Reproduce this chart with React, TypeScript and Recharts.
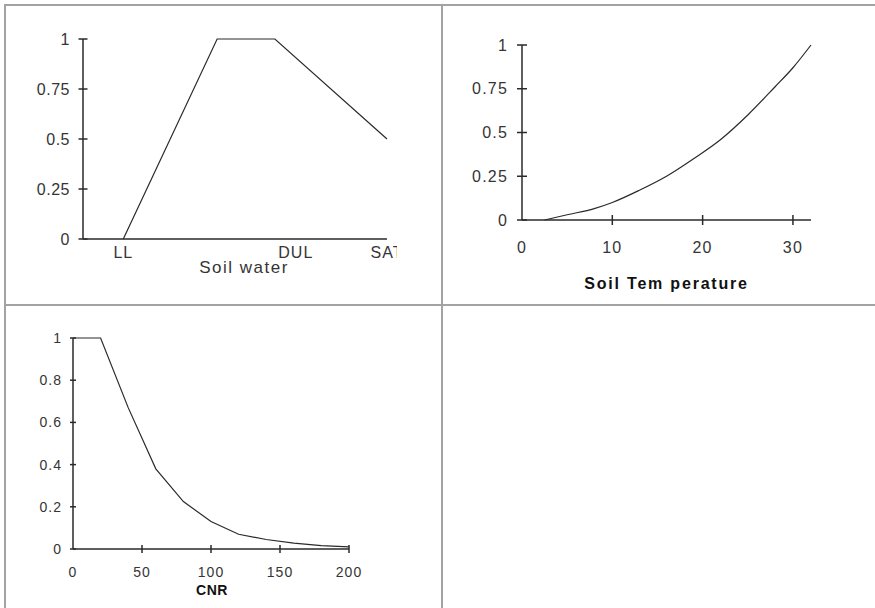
import React from "react";
import { LineChart, Line, XAxis, YAxis, Label } from "recharts";

// soil water panel (x in arbitrary units between LL and SAT)
const waterPos = [1.06, 3.53, 5.05, 8];
const waterFactor = [0, 1, 1, 0.5];
const waterTickPos = [1.06, 5.6, 8];
const waterTickNames = ["LL", "DUL", "SAT"];
const unitTicks = [0, 0.25, 0.5, 0.75, 1];

// soil temperature panel
const tempC = [2.5, 5, 8, 10, 13, 16, 19, 22, 25, 28, 30, 32];
const tempFactor = [0, 0.03, 0.065, 0.1, 0.17, 0.25, 0.35, 0.46, 0.6, 0.76, 0.87, 1];
const tempTicks = [0, 10, 20, 30];

// C:N ratio panel
const cnr = [0, 20, 40, 60, 80, 100, 120, 140, 160, 180, 200];
const cnrFactor = [1, 1, 0.67, 0.38, 0.225, 0.13, 0.07, 0.045, 0.028, 0.016, 0.01];
const cnrTicks = [0, 50, 100, 150, 200];
const fifthTicks = [0, 0.2, 0.4, 0.6, 0.8, 1];

const waterData = waterPos.map((x, i) => ({ x, y: waterFactor[i] }));
const tempData = tempC.map((x, i) => ({ x, y: tempFactor[i] }));
const cnrData = cnr.map((x, i) => ({ x, y: cnrFactor[i] }));

const INK = "#2a2a2a";
const TXT = "#353535";
const FONT = "'Liberation Sans', Arial, sans-serif";

function YTick(props: any) {
  const { x, y, payload, len, gap, size, ls } = props;
  return (
    <g>
      <line x1={x - len} x2={x + len} y1={y} y2={y} stroke={INK} strokeWidth={1.5} />
      <text x={x - gap} y={y} dy="0.35em" textAnchor="end" fill={TXT}
        fontSize={size} fontFamily={FONT} letterSpacing={ls}>
        {String(payload.value)}
      </text>
    </g>
  );
}

function XTick(props: any) {
  const { x, y, payload, len, gap, size, ls, names, clipX } = props;
  let label = String(payload.value);
  if (names) {
    const i = waterTickPos.indexOf(payload.value);
    label = i >= 0 ? names[i] : "";
  }
  const cid = "clip-" + String(payload.value).replace(".", "_");
  return (
    <g>
      {len > 0 && (
        <line x1={x} x2={x} y1={y - len} y2={y + len} stroke={INK} strokeWidth={1.5} />
      )}
      {clipX && (
        <defs>
          <clipPath id={cid}>
            <rect x={0} y={0} width={clipX} height={400} />
          </clipPath>
        </defs>
      )}
      <text x={x} y={y + gap} dy="0.35em" textAnchor="middle" fill={TXT}
        fontSize={size} fontFamily={FONT} letterSpacing={ls}
        clipPath={clipX ? `url(#${cid})` : undefined}>
        {label}
      </text>
    </g>
  );
}

const title = (text: string, dx: number, dy: number, size: number, bold: boolean, ls: number) =>
  (p: any) => {
    const vb = p.viewBox;
    return (
      <text x={vb.x + vb.width / 2 + dx} y={vb.y + dy} dy="0.35em" textAnchor="middle"
        fill={bold ? "#111" : TXT} fontSize={size} fontWeight={bold ? 700 : 400}
        fontFamily={FONT} letterSpacing={ls}>
        {text}
      </text>
    );
  };

const line = (left: number, top: number, w: number, h: number) => (
  <div style={{ position: "absolute", left, top, width: w, height: h, background: "#a3a3a3" }} />
);

export default function App() {
  return (
    <div style={{ position: "absolute", left: 0, top: 0, width: 875, height: 608, background: "#fff", overflow: "hidden" }}>
      {line(4, 4, 871, 2)}
      {line(4, 4, 2, 604)}
      {line(441, 4, 2, 604)}
      {line(4, 304, 871, 2)}

      <div style={{ position: "absolute", left: 5, top: 5 }}>
        <LineChart width={437} height={300} data={waterData}
          margin={{ top: 34, right: 55, bottom: 36, left: 38 }}>
          <XAxis dataKey="x" type="number" domain={[0, 8]} ticks={waterTickPos}
            height={30} tickSize={0} tickMargin={0} stroke={INK} strokeWidth={1.5}
            interval={0}
            tick={(p: any) => <XTick {...p} len={0} gap={13} size={16} ls={1} names={waterTickNames} clipX={392} />}>
            <Label content={title("Soil water", 9, 28, 17, false, 1.5)} />
          </XAxis>
          <YAxis type="number" domain={[0, 1]} ticks={unitTicks} width={40}
            tickSize={0} tickMargin={0} stroke={INK} strokeWidth={1.5} interval={0}
            tick={(p: any) => <YTick {...p} len={4.5} gap={13} size={16} ls={0.5} />} />
          <Line dataKey="y" type="linear" stroke={INK} strokeWidth={1.2} dot={false}
            isAnimationActive={false} />
        </LineChart>
      </div>

      <div style={{ position: "absolute", left: 443, top: 5 }}>
        <LineChart width={432} height={300} data={tempData}
          margin={{ top: 40, right: 64, bottom: 55, left: 39 }}>
          <XAxis dataKey="x" type="number" domain={[0, 32]} ticks={tempTicks}
            height={30} tickSize={0} tickMargin={0} stroke={INK} strokeWidth={1.5}
            interval={0}
            tick={(p: any) => <XTick {...p} len={p.payload.value === 0 ? 0 : 5} gap={27} size={16} ls={1.2} />}>
            <Label content={title("Soil Tem perature", 0, 63, 16, true, 1.8)} />
          </XAxis>
          <YAxis type="number" domain={[0, 1]} ticks={unitTicks} width={40}
            tickSize={0} tickMargin={0} stroke={INK} strokeWidth={1.5} interval={0}
            tick={(p: any) => <YTick {...p} len={5} gap={14} size={16} ls={1.2} />} />
          <Line dataKey="y" type="monotone" stroke={INK} strokeWidth={1.2} dot={false}
            isAnimationActive={false} />
        </LineChart>
      </div>

      <div style={{ position: "absolute", left: 5, top: 306 }}>
        <LineChart width={437} height={302} data={cnrData}
          margin={{ top: 32, right: 93, bottom: 29, left: 28 }}>
          <XAxis dataKey="x" type="number" domain={[0, 200]} ticks={cnrTicks}
            height={30} tickSize={0} tickMargin={0} stroke={INK} strokeWidth={1.5}
            interval={0}
            tick={(p: any) => <XTick {...p} len={p.payload.value === 0 ? 0 : 4} gap={23} size={14} ls={1} />}>
            <Label content={title("CNR", 1, 41, 14, true, 0.5)} />
          </XAxis>
          <YAxis type="number" domain={[0, 1]} ticks={fifthTicks} width={40}
            tickSize={0} tickMargin={0} stroke={INK} strokeWidth={1.5} interval={0}
            tick={(p: any) => <YTick {...p} len={3} gap={11} size={14} ls={1} />} />
          <Line dataKey="y" type="linear" stroke={INK} strokeWidth={1.2} dot={false}
            isAnimationActive={false} />
        </LineChart>
      </div>
    </div>
  );
}
